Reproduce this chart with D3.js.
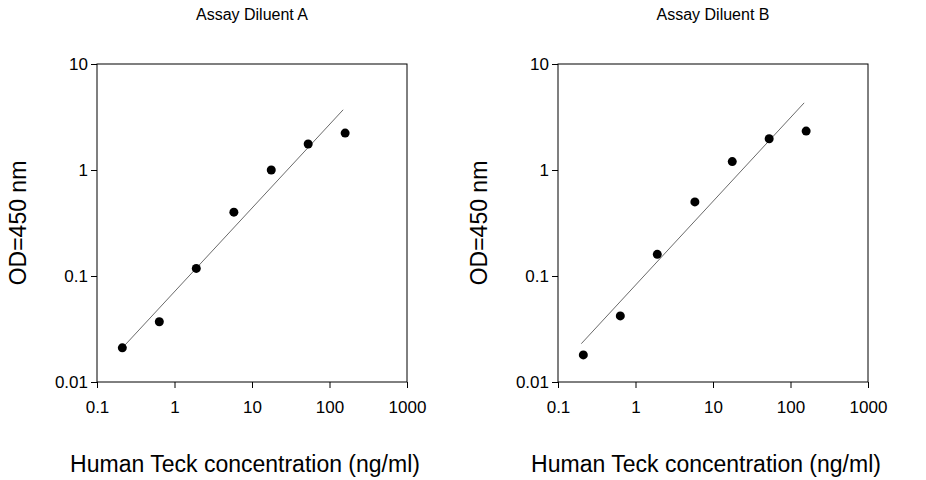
<!DOCTYPE html>
<html><head><meta charset="utf-8">
<script src="https://cdn.jsdelivr.net/npm/d3@7"></script>
<style>body{margin:0;background:#fff}text{font-family:Arial,"Liberation Sans",sans-serif;fill:#000}</style>
</head><body><svg id="c" width="926" height="480"></svg>
<script>
const conc = [0.2, 0.6, 1.8, 5.5, 16.7, 50, 150];
const odA = [0.021, 0.037, 0.118, 0.40, 1.0, 1.76, 2.23];
const odB = [0.018, 0.042, 0.16, 0.50, 1.2, 1.97, 2.33];
const fitX = [0.2, 150];
const fitA = [0.02, 3.7];
const fitB = [0.023, 4.3];
const xTicks = [0.1, 1, 10, 100, 1000];
const yTicks = [0.01, 0.1, 1, 10];
const panels = [
  {title: "Assay Diluent A", od: odA, fit: fitA, left: 97},
  {title: "Assay Diluent B", od: odB, fit: fitB, left: 558}
];
const svg = d3.select("#c");
const fmt = d => String(d);
panels.forEach(p => {
  const x = d3.scaleLog().domain([0.1, 1000]).range([p.left, p.left + 310]);
  const y = d3.scaleLog().domain([0.01, 10]).range([382, 64]);
  const g = svg.append("g");
  g.append("rect").attr("x", p.left).attr("y", 64).attr("width", 310).attr("height", 318)
    .attr("fill", "none").attr("stroke", "#000").attr("stroke-width", 1);
  const ax = g.append("g").attr("transform", "translate(0,382)")
    .call(d3.axisBottom(x).tickValues(xTicks).tickFormat(fmt).tickSizeOuter(0).tickSize(6));
  const ay = g.append("g").attr("transform", `translate(${p.left},0)`)
    .call(d3.axisLeft(y).tickValues(yTicks).tickFormat(fmt).tickSizeOuter(0).tickSize(6));
  [ax, ay].forEach(a => { a.attr("font-size", null).attr("font-family", null); a.select(".domain").remove(); a.selectAll("text").style("font-size", "17px"); });
  ax.selectAll("text").attr("dy", "1.3em");
  ay.selectAll("text").attr("x", -9);
  g.append("line").attr("x1", x(fitX[0])).attr("y1", y(p.fit[0])).attr("x2", x(fitX[1])).attr("y2", y(p.fit[1]))
    .attr("stroke", "#444").attr("stroke-width", 0.8);
  g.selectAll("circle").data(conc).join("circle")
    .attr("cx", d => x(d) + 2).attr("cy", (d, i) => y(p.od[i])).attr("r", 4.5).attr("fill", "#000");
  g.append("text").attr("x", p.left + 155).attr("y", 20).attr("text-anchor", "middle").style("font-size", "16px").text(p.title);
  g.append("text").attr("x", p.left + 148).attr("y", 472).attr("text-anchor", "middle").style("font-size", "23px").text("Human Teck concentration (ng/ml)");
  g.append("text").attr("transform", `translate(${p.left - 71},223) rotate(-90)`).attr("text-anchor", "middle").style("font-size", "23px").text("OD=450 nm");
});
</script></body></html>
